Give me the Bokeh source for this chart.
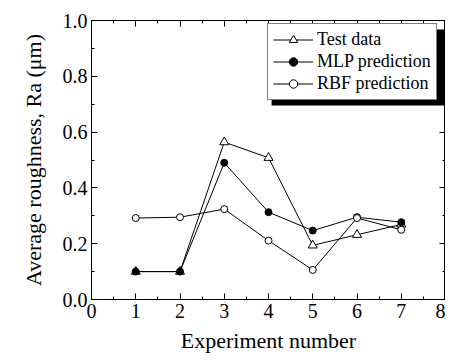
from bokeh.plotting import figure
from bokeh.models import Range1d, LinearAxis, Legend, LegendItem, BoxAnnotation, FixedTicker, NumeralTickFormatter
from bokeh.embed import file_html
from bokeh.resources import INLINE

experiments = [1, 2, 3, 4, 5, 6, 7]
test_data = [0.10, 0.10, 0.564, 0.508, 0.194, 0.232, 0.269]
mlp_pred = [0.10, 0.10, 0.490, 0.313, 0.247, 0.295, 0.277]
rbf_pred = [0.292, 0.295, 0.324, 0.211, 0.106, 0.292, 0.250]

x_ticks = [0, 1, 2, 3, 4, 5, 6, 7, 8]
x_minor = [0.5 + i for i in range(8)]
y_ticks = [0.0, 0.2, 0.4, 0.6, 0.8, 1.0]
y_minor = [0.1, 0.3, 0.5, 0.7, 0.9]

FONT = "Liberation Serif"

p = figure(width=445, height=355, output_backend="svg", toolbar_location=None,
           x_range=Range1d(0, 8), y_range=Range1d(0, 1.0),
           min_border_left=91, min_border_right=0, min_border_top=20, min_border_bottom=56,
           x_axis_label="Experiment number", y_axis_label="Average roughness, Ra (μm)")
p.grid.visible = False
p.outline_line_color = "black"
p.outline_line_width = 1
p.background_fill_color = "white"
p.border_fill_color = "white"

def style_axis(ax, ticks, minor, labels=True):
    ax.ticker = FixedTicker(ticks=ticks, minor_ticks=minor)
    ax.axis_line_color = "black"
    ax.major_tick_line_color = "black"
    ax.minor_tick_line_color = "black"
    ax.major_tick_in = 6
    ax.major_tick_out = 0
    ax.minor_tick_in = 3
    ax.minor_tick_out = 0
    ax.major_label_text_font = FONT
    ax.major_label_text_font_size = "20px"
    ax.major_label_text_color = "black"
    ax.major_label_standoff = 4
    ax.axis_label_text_font = FONT
    ax.axis_label_text_font_size = "22px"
    ax.axis_label_text_font_style = "normal"
    ax.axis_label_text_color = "black"
    if not labels:
        ax.major_label_overrides = {t: "" for t in ticks}
        ax.major_label_text_font_size = "0px"
        ax.major_label_standoff = 0

style_axis(p.xaxis[0], x_ticks, x_minor)
style_axis(p.yaxis[0], y_ticks, y_minor)
p.yaxis[0].formatter = NumeralTickFormatter(format="0.0")
p.xaxis[0].axis_label_standoff = 7
p.yaxis[0].axis_label_standoff = 14

top = LinearAxis()
style_axis(top, x_ticks, x_minor, labels=False)
p.add_layout(top, "above")
right = LinearAxis()
style_axis(right, y_ticks, y_minor, labels=False)
p.add_layout(right, "right")

# legend shadow
shadow = BoxAnnotation(left=4.07, right=8.0, top=0.968, bottom=0.695,
                       fill_color="black", fill_alpha=1.0, line_color=None)
p.add_layout(shadow)

l1 = p.line(experiments, test_data, line_color="black", line_width=1)
m1 = p.scatter(experiments, test_data, marker="triangle", size=9,
               fill_color="white", line_color="black", line_width=1)
l2 = p.line(experiments, mlp_pred, line_color="black", line_width=1)
m2 = p.scatter(experiments, mlp_pred, marker="circle", size=7,
               fill_color="black", line_color="black", line_width=1)
l3 = p.line(experiments, rbf_pred, line_color="black", line_width=1)
m3 = p.scatter(experiments, rbf_pred, marker="circle", size=7,
               fill_color="white", line_color="black", line_width=1)

legend = Legend(items=[
    LegendItem(label="Test data", renderers=[l1, m1]),
    LegendItem(label="MLP prediction", renderers=[l2, m2]),
    LegendItem(label="RBF prediction", renderers=[l3, m3]),
], location=(176, 199))
legend.label_text_font = FONT
legend.label_text_font_size = "18px"
legend.label_text_color = "black"
legend.glyph_width = 40
legend.glyph_height = 21
legend.label_height = 21
legend.label_width = 114
legend.label_standoff = 4
legend.spacing = 1
legend.padding = 5
legend.margin = 0
legend.border_line_color = "black"
legend.border_line_width = 1
legend.background_fill_color = "white"
legend.background_fill_alpha = 1.0
p.add_layout(legend)

open("out.html", "w").write(file_html(p, INLINE))
